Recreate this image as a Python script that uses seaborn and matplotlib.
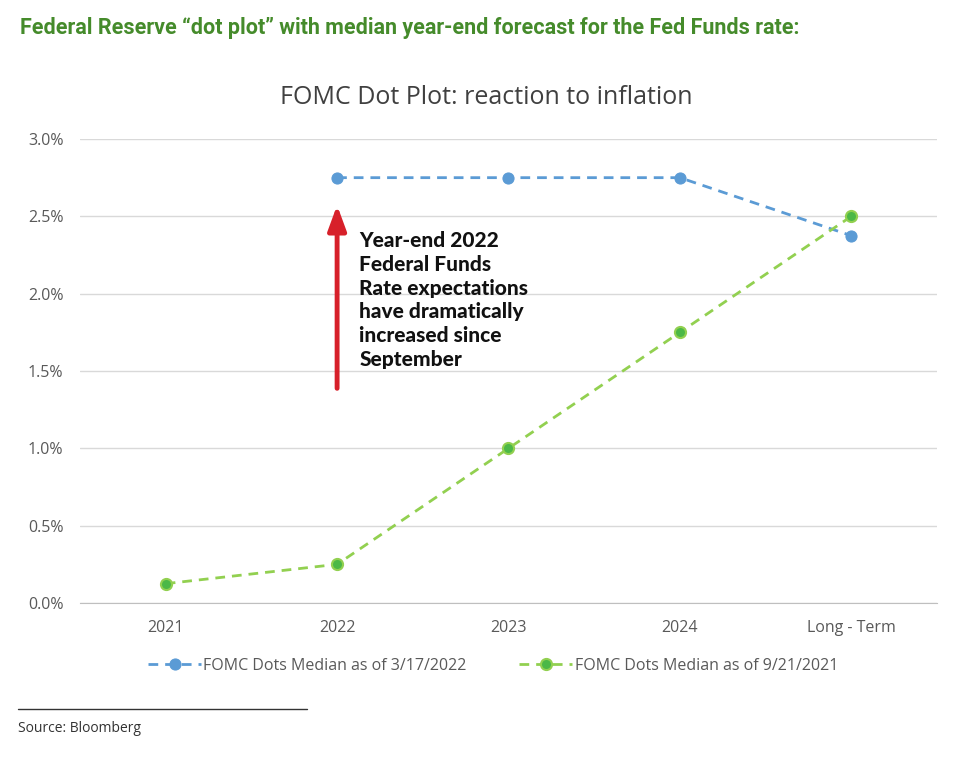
import numpy as np
import pandas as pd
import matplotlib
matplotlib.use('Agg')
import matplotlib.pyplot as plt
import seaborn as sns

categories = ['2021', '2022', '2023', '2024', 'Long - Term']
march_2022 = [np.nan, 2.75, 2.75, 2.75, 2.375]
sept_2021 = [0.125, 0.25, 1.0, 1.75, 2.5]
yticks = [0.0, 0.5, 1.0, 1.5, 2.0, 2.5, 3.0]
label_march = 'FOMC Dots Median as of 3/17/2022'
label_sept = 'FOMC Dots Median as of 9/21/2021'

sns.set_style('white')
plt.rcParams['font.family'] = ['Open Sans', 'DejaVu Sans']

df = pd.DataFrame({'pos': np.arange(len(categories)),
                   'march': march_2022, 'sept': sept_2021})

fig = plt.figure(figsize=(9.79, 7.59), dpi=100)
ax = fig.add_axes([80 / 979, 1 - 603 / 759, 857 / 979, 464 / 759])

blue = '#5B9BD5'
green_line = '#92D050'
green_dot = '#4CB847'

sns.lineplot(data=df.dropna(), x='pos', y='march', ax=ax, color=blue,
             linestyle=(0, (3.5, 2.5)), linewidth=2, marker='o', markersize=8,
             markerfacecolor=blue, markeredgecolor=blue, label=label_march,
             clip_on=False)
sns.lineplot(data=df, x='pos', y='sept', ax=ax, color=green_line,
             linestyle=(0, (3.5, 2.5)), linewidth=2, marker='o', markersize=8,
             markerfacecolor=green_dot, markeredgecolor=green_line,
             markeredgewidth=1.5, label=label_sept, clip_on=False)

ax.set_xlim(-0.5, len(categories) - 0.5)
ax.set_ylim(0, 3.0)
ax.set_xticks(df['pos'])
ax.set_xticklabels(categories)
ax.set_yticks(yticks)
ax.set_yticklabels([f'{v:.1f}%' for v in yticks])
ax.set_xlabel('')
ax.set_ylabel('')
ax.tick_params(axis='both', colors='#595959', labelsize=11.5, length=0, pad=12)
ax.yaxis.grid(True, color='#D9D9D9', linewidth=1)
ax.set_axisbelow(True)
for s in ['top', 'right', 'left']:
    ax.spines[s].set_visible(False)
ax.spines['bottom'].set_color('#BFBFBF')

ax.annotate('', xy=(1, 2.59), xytext=(1, 1.37),
            arrowprops=dict(arrowstyle='-|>,head_length=1.5,head_width=0.55',
                            color='#D7202A', linewidth=3.5))
ax.text(1.13, 2.405, 'Year-end 2022\nFederal Funds\nRate expectations\nhave dramatically\nincreased since\nSeptember',
        fontsize=15, fontweight='black', family=['Lato', 'DejaVu Sans'],
        color='#111111', va='top', ha='left', linespacing=1.3)

fig.text(0.497, 1 - 98 / 759, 'FOMC Dot Plot: reaction to inflation',
         ha='center', va='center', fontsize=18, color='#404040')
fig.text(20 / 979, 1 - 28 / 759,
         'Federal Reserve \u201cdot plot\u201d with median year-end forecast for the Fed Funds rate:',
         ha='left', va='center', fontsize=15.5, fontweight='bold',
         family=['Roboto', 'DejaVu Sans'], color='#458B2B')

ax.legend(loc='center', bbox_to_anchor=(0.482, -0.135), ncol=2, frameon=False,
          fontsize=11.5, labelcolor='#595959', handlelength=3.3,
          handletextpad=0.15, columnspacing=3.3)

fig.add_artist(plt.Line2D([18 / 979, 307 / 979], [1 - 709 / 759, 1 - 709 / 759],
                          color='#333333', linewidth=1))
fig.text(18 / 979, 1 - 728 / 759, 'Source: Bloomberg', ha='left', va='center',
         fontsize=10, color='#333333')

fig.savefig('out.png', dpi=100)
